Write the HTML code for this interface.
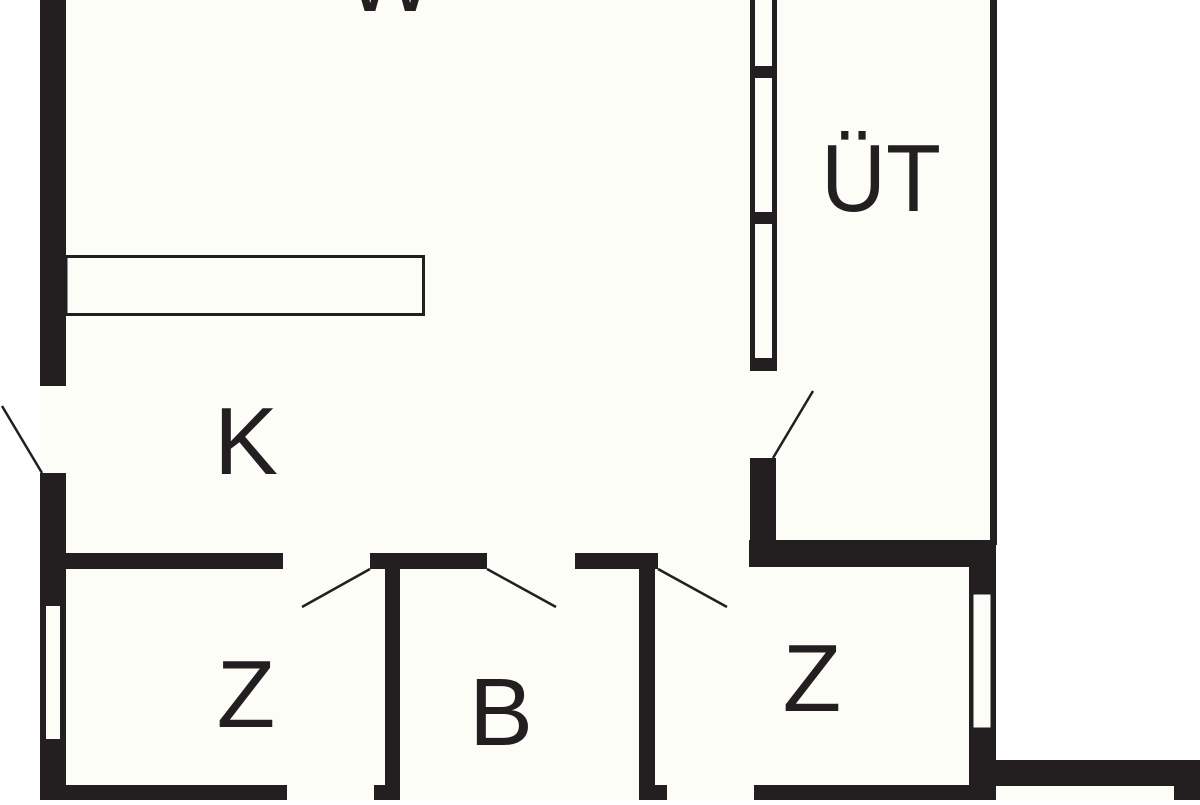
<!DOCTYPE html>
<html><head><meta charset="utf-8"><style>
body{margin:0;width:1200px;height:800px;overflow:hidden;background:#fff}
</style></head><body>
<svg width="1200" height="800" viewBox="0 0 1200 800" xmlns="http://www.w3.org/2000/svg">
<rect x="40" y="0" width="956" height="800" fill="#fdfdf8"/>
<g fill="#231f20">
<!-- left wall -->
<rect x="40" y="0" width="26" height="386"/>
<rect x="40" y="473" width="26" height="327"/>
<rect x="45" y="605" width="16" height="135" fill="#fdfdf8" stroke="#231f20" stroke-width="2"/>
<!-- K bottom wall -->
<rect x="66" y="553" width="217" height="16"/>
<rect x="370" y="553" width="117" height="16"/>
<rect x="575" y="553" width="83" height="16"/>
<!-- partitions -->
<rect x="385" y="569" width="15" height="231"/>
<rect x="374" y="785" width="11" height="15"/>
<rect x="639" y="569" width="16" height="231"/>
<rect x="655" y="785" width="12" height="15"/>
<rect x="66" y="785" width="221" height="15"/>
<rect x="754" y="785" width="242" height="15"/>
<!-- UT left wall -->
<rect x="750" y="0" width="27" height="371"/>
<rect x="750" y="458" width="26" height="109"/>
<rect x="749" y="540" width="247" height="27"/>
<!-- right walls -->
<rect x="990" y="0" width="7" height="545"/>
<rect x="969" y="567" width="27" height="233"/>
<rect x="996" y="760" width="204" height="26"/>
<rect x="1174" y="786" width="26" height="14"/>
</g>
<rect x="996" y="786" width="178" height="14" fill="#fdfdf8"/>
<!-- window segments UT -->
<g fill="#fdfdf8">
<rect x="755" y="0" width="17" height="66"/>
<rect x="755" y="78" width="17" height="134"/>
<rect x="755" y="224" width="17" height="134"/>
<rect x="973" y="594" width="18" height="134" stroke="#231f20" stroke-width="1"/>
</g>
<!-- counter -->
<rect x="66" y="256.5" width="357.5" height="58" fill="#fdfdf8" stroke="#231f20" stroke-width="3"/>
<!-- doors -->
<g stroke="#231f20" stroke-width="2.5">
<line x1="2" y1="406" x2="42" y2="473"/>
<line x1="370" y1="569" x2="302" y2="607"/>
<line x1="487" y1="569" x2="556" y2="607"/>
<line x1="658" y1="569" x2="727" y2="607"/>
<line x1="773" y1="458" x2="813" y2="391"/>
</g>
<g font-family="Liberation Sans, sans-serif" font-size="96" fill="#231f20" text-anchor="middle">
<text x="390" y="11">W</text>
<text x="246" y="474">K</text>
<text x="246" y="727">Z</text>
<text x="501" y="745">B</text>
<text x="812" y="711">Z</text>
<text x="881" y="211" textLength="120" lengthAdjust="spacingAndGlyphs">ÜT</text>
</g>
</svg>
</body></html>
